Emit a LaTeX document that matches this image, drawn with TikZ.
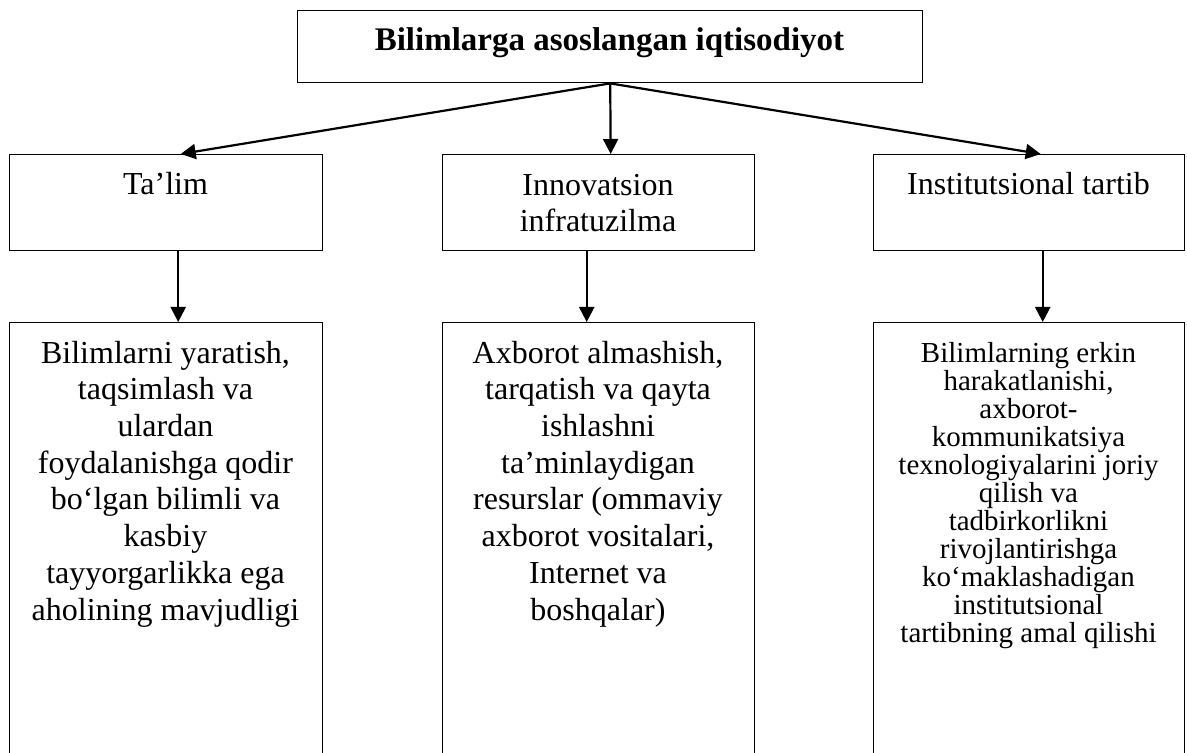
\documentclass[tikz,border=0pt]{standalone}
\usepackage{fontspec}
\setmainfont{Liberation Serif}
\usetikzlibrary{arrows.meta}
\begin{document}
\begin{tikzpicture}[x=0.5pt,y=-0.5pt,
  box/.style={draw, line width=0.7pt, inner sep=0pt, anchor=north west},
  conn/.style={line width=1.1pt, -{Triangle[length=7.5pt,width=7.5pt]}},
  txt/.style={align=center, inner sep=0pt, anchor=base, font=\fontsize{16}{18.35}\selectfont},
  stxt/.style={align=center, inner sep=0pt, anchor=base, font=\fontsize{14.5}{14}\selectfont},
  ttl/.style={inner sep=0pt, anchor=base, font=\bfseries\fontsize{16.5}{18}\selectfont}]
\useasboundingbox (0,0) rectangle (1187,753);
\clip (0,0) rectangle (1187,753);
% boxes
\node[box, minimum width=312.5pt, minimum height=36pt] (top) at (297,10) {};
\node[box, minimum width=156.5pt, minimum height=48pt] (m1) at (9,154) {};
\node[box, minimum width=156pt, minimum height=48pt] (m2) at (442,154) {};
\node[box, minimum width=155.5pt, minimum height=48pt] (m3) at (873,154) {};
\node[box, minimum width=156.5pt, minimum height=224pt] (b1) at (9,322) {};
\node[box, minimum width=156pt, minimum height=224pt] (b2) at (442,322) {};
\node[box, minimum width=155.5pt, minimum height=224pt] (b3) at (873,322) {};
% texts (anchor base = baseline of the last line)
\node[ttl] (ttext) at (609.5,51) {Bilimlarga asoslangan iqtisodiyot};
\node[txt] (m1t) at (165.5,195) {Ta’lim};
\node[txt] (m2t) at (598,232) {Innovatsion\\infratuzilma};
\node[txt] (m3t) at (1028.5,195) {Institutsional tartib};
\node[txt] (b1t) at (165.5,620) {Bilimlarni yaratish,\\taqsimlash va\\ulardan\\foydalanishga qodir\\bo‘lgan bilimli va\\kasbiy\\tayyorgarlikka ega\\aholining mavjudligi};
\node[txt] (b2t) at (598,620) {Axborot almashish,\\tarqatish va qayta\\ishlashni\\ta’minlaydigan\\resurslar (ommaviy\\axborot vositalari,\\Internet va\\boshqalar)};
\node[stxt] (b3t) at (1028.5,642) {Bilimlarning erkin\\harakatlanishi,\\axborot-\\kommunikatsiya\\texnologiyalarini joriy\\qilish va\\tadbirkorlikni\\rivojlantirishga\\ko‘maklashadigan\\institutsional\\tartibning amal qilishi};
% connectors
\draw[conn] (top.south) -- ([xshift=7.25pt]m1.north);
\draw[conn] (top.south) -- ([xshift=0.25pt]m2.north -| top.south);
\draw[conn] (top.south) -- ([xshift=5.75pt]m3.north);
\draw[conn] ([xshift=6pt]m1.south) -- ([xshift=6pt]b1.north);
\draw[conn] ([xshift=-6pt]m2.south) -- ([xshift=-6pt]b2.north);
\draw[conn] ([xshift=6.75pt]m3.south) -- ([xshift=6.75pt]b3.north);
\end{tikzpicture}
\end{document}
